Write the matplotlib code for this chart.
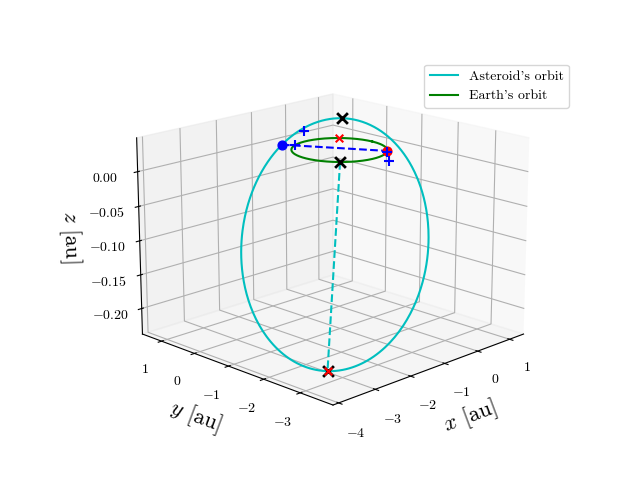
import matplotlib
matplotlib.use("Agg")
import matplotlib.pyplot as plt
import numpy as np

plt.rcParams['font.family'] = 'serif'
plt.rcParams['font.serif'] = ['cmr10']
plt.rcParams['mathtext.fontset'] = 'cm'
plt.rcParams['axes.formatter.use_mathtext'] = True
plt.rcParams['axes.unicode_minus'] = True

# asteroid orbit parameters
q_peri = 1.0
Q_aph = 4.6
b_scale = 0.88
peri_dir = np.array([0.75, 0.66])
z_peri = 0.03
z_aph = -0.22

a = (q_peri + Q_aph) / 2
e = (Q_aph - q_peri) / (Q_aph + q_peri)
nu = np.linspace(0, 2 * np.pi, 400)
r = a * (1 - e**2) / (1 + e * np.cos(nu))
u = peri_dir / np.linalg.norm(peri_dir)
v = np.array([-u[1], u[0]])
slope = (z_peri - z_aph) / (q_peri + Q_aph)
ast_x = r * (np.cos(nu) * u[0] + b_scale * np.sin(nu) * v[0])
ast_y = r * (np.cos(nu) * u[1] + b_scale * np.sin(nu) * v[1])
ast_z = z_peri + slope * (r * np.cos(nu) - q_peri)

th = np.linspace(0, 2 * np.pi, 400)
ex, ey, ez = np.cos(th), np.sin(th), np.zeros_like(th)

peri = np.array([q_peri * u[0], q_peri * u[1], z_peri])
aph = np.array([-Q_aph * u[0], -Q_aph * u[1], z_aph])
# asteroid crossing z = 0 on the left-hand side
i0 = np.argmin(np.abs(ast_z[:200]))
ast_node = np.array([ast_x[i0], ast_y[i0], 0.0])
earth_b = np.array([np.cos(np.radians(-50)), np.sin(np.radians(-50)), 0])
cross_front = np.array([np.cos(np.radians(225)), np.sin(np.radians(225)), 0])
cross_back = np.array([np.cos(np.radians(45)), np.sin(np.radians(45)), 0])
plus_x = [0.2, -0.35, 0.6, 0.5]
plus_y = [1.25, 0.95, -0.8, -0.95]
plus_z = [0.01, 0.0, 0.0, -0.01]

fig = plt.figure(figsize=(6.4, 4.8))
ax = fig.add_subplot(projection='3d')
ax.plot(ast_x, ast_y, ast_z, color='c', label="Asteroid's orbit")
ax.plot(ex, ey, ez, color='g', label="Earth's orbit")
ax.plot(*zip(ast_node, earth_b), 'b--')
ax.plot(*zip(cross_front, aph), 'c--')
ax.scatter(*ast_node, color='b', s=40, depthshade=False)
ax.scatter(*earth_b, color='r', s=40, depthshade=False)
ax.scatter(*zip(peri, cross_front, aph), color='k', marker='x', s=60, linewidths=2, depthshade=False)
ax.scatter(*zip(cross_back, aph), color='r', marker='x', s=30, depthshade=False)
ax.scatter(plus_x, plus_y, plus_z, color='b', marker='+', s=60, linewidths=1.5, depthshade=False)
ax.view_init(elev=17, azim=-135)
ax.set_box_aspect(None, zoom=1.15)
ax.set_xlabel(r'$x$ [au]', fontsize=16)
ax.set_ylabel(r'$y$ [au]', fontsize=16)
ax.set_zlabel(r'$z$ [au]', fontsize=16)
ax.set_zticks([0, -0.05, -0.1, -0.15, -0.2])
ax.legend(loc='upper right', bbox_to_anchor=(0.9, 0.88), bbox_transform=fig.transFigure)
fig.savefig('out.png', dpi=100)
